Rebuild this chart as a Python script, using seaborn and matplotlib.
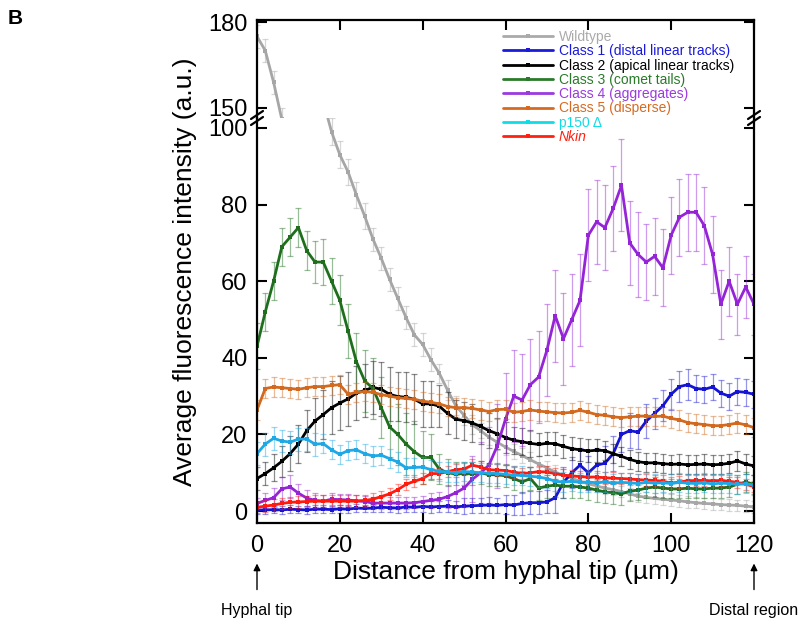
import numpy as np
import pandas as pd
import seaborn as sns
from matplotlib import pyplot as plt
from matplotlib.lines import Line2D

# distance from hyphal tip (um), sampled every 2 um
dist = list(range(0, 121, 2))

wildtype = [175, 170, 159, 146, 140, 132, 124, 115, 107, 99,
            93, 88.5, 82.5, 77, 71, 66, 60.5, 55.5, 50.5, 46,
            43.5, 39.5, 36, 31.6, 27.5, 25, 22.5, 21, 19.3, 18,
            16.7, 15.6, 14.5, 13.4, 12.3, 11.3, 10.2, 9.3, 8.6, 7.8,
            7.1, 6.6, 6, 5.6, 5.1, 4.5, 3.9, 3.6, 3.3, 3.1,
            2.9, 2.7, 2.4, 2.2, 2, 1.9, 1.7, 1.6, 1.5, 1.3, 1.1]
class1 = [0.3, 0.3, 0.4, 0.3, 0.5, 0.4, 0.3, 0.5, 0.5, 0.4,
          0.6, 0.5, 0.8, 0.7, 0.8, 1.0, 0.9, 0.8, 1.1, 1.0,
          1.2, 1.1, 1.2, 1.3, 1.1, 1.3, 1.4, 1.5, 1.6, 1.5,
          1.7, 1.6, 2.0, 2.2, 2.2, 2.4, 3.5, 7.5, 10, 12,
          10, 12, 12.5, 15, 20, 21, 20.6, 23.5, 25.5, 27.5,
          30.5, 32.5, 33, 32, 31.8, 32.4, 30.8, 30, 31.2, 31, 30.5]
class2 = [8.5, 9.8, 11.3, 13, 15, 17.5, 21, 23.5, 25.2, 27,
          28.2, 29.3, 30.8, 31.5, 32.3, 31.8, 30.5, 29.9, 29.7, 29.2,
          28, 28, 27.4, 25.5, 24, 23.6, 23, 22.1, 21, 20.2,
          19.2, 18.5, 18.1, 17.7, 17.4, 17.7, 17.6, 16.9, 16.3, 16,
          15.7, 15.9, 15.8, 15, 14.3, 13.5, 12.9, 12.6, 12.6, 12.4,
          12.2, 12.3, 12.1, 12.2, 12.3, 12.1, 12.2, 12.5, 13.1, 12.3, 11.8]
class3 = [43, 52, 60, 69, 71.5, 74, 68, 65, 65, 60,
          55, 47, 39, 34, 32, 27, 22, 20, 17.5, 15.5,
          14, 14, 11, 10, 9.7, 9.8, 9.7, 10, 9.5, 9.5,
          9.2, 8.5, 7.6, 8.5, 6, 6.5, 6.8, 6.5, 6.5, 6.3,
          6, 5.5, 5, 4.8, 4.5, 5.2, 5.5, 6, 6.3, 6,
          5.8, 5.8, 6, 5.8, 5.8, 6, 6, 6.3, 7, 7.6, 7]
class4 = [2, 2.8, 3.5, 5.8, 6.3, 4.7, 3.4, 2.8, 2.6, 3.1,
          3, 2.9, 2.7, 2.5, 2.1, 2.1, 2.1, 2.1, 2.1, 2.2,
          2.5, 2.8, 3.1, 3.8, 4.8, 6, 8.3, 10, 12, 17,
          24, 30, 29, 33, 35, 42, 51, 45, 50, 55,
          72, 75.5, 74, 79, 85, 70, 67, 65, 66.5, 63.5,
          72, 76.7, 78, 78, 74.5, 67, 54, 60, 54, 58.5, 54]
class5 = [26.4, 32, 32.4, 32.2, 32, 31.8, 32.2, 32.5, 32.5, 32.8,
          33, 30.5, 31, 31.2, 31, 30.4, 30, 29.6, 29.4, 29.2,
          28.7, 28.4, 28, 27.3, 27, 27, 26.8, 26.4, 26, 26.5,
          26.6, 25.8, 26, 26.4, 26.1, 25.9, 25.7, 25.6, 25.8, 26.3,
          25.8, 25.2, 25, 24.6, 24.4, 24.6, 24.8, 24.8, 24.7, 24.8,
          24.2, 23.8, 23.1, 22.8, 22.6, 22.3, 22.3, 22.6, 23, 22.5, 21.8]
p150 = [15, 17.5, 19, 18.3, 18, 18.8, 18.8, 17.5, 17.6, 16,
        14.8, 15.8, 16, 15, 14.4, 14.6, 13.7, 12.8, 11.3, 11.4,
        11.5, 10.8, 10.4, 10.2, 10, 10.3, 10.2, 10, 9.9, 9.8,
        9.6, 9.4, 9.3, 9.1, 8.9, 8.5, 7.8, 7.6, 7.8, 7.5,
        7.6, 7.4, 7.6, 7.3, 7.5, 7.4, 7.2, 7.5, 7.3, 7.4,
        7.2, 7.5, 7.3, 7.2, 7.4, 7.1, 7.3, 7.2, 7, 7.1, 6.8]
nkin = [1, 1.3, 1.6, 2, 2.3, 2.4, 2.5, 2.6, 2.6, 2.6,
        2.6, 2.6, 2.6, 2.8, 3.1, 3.8, 4.5, 5.6, 7, 7.8,
        8.5, 9.8, 9.8, 10.3, 10.8, 11, 12, 11.5, 10.8, 10.7,
        10.6, 10.2, 9.8, 10, 10.3, 10.2, 9.8, 9.4, 9.2, 9,
        8.9, 8.9, 8.7, 8.6, 8.5, 8.4, 8.2, 8.1, 8, 7.8,
        7.3, 7.6, 7.9, 8, 8, 7.9, 8, 7.8, 7.5, 7, 6.4]

# error bars (+/-)
wildtype_err = [4, 4, 4, 4, 4, 4, 4, 4, 4, 3.5,
                3.5, 3.5, 3.5, 3.5, 3, 3, 3, 3, 3, 3,
                3, 3, 2.5, 2.5, 2.5, 2.5, 2.5, 2, 2, 2,
                2, 2, 2, 2, 2, 1.8, 1.8, 1.8, 1.5, 1.5,
                1.5, 1.5, 1.5, 1.5, 1.5, 1.5, 1.5, 1.5, 1.5, 1.5,
                1.5, 1.5, 1.5, 1.5, 1.5, 1.5, 1.5, 1.5, 1.5, 1.5, 1.5]
class1_err = [1, 1, 1, 1, 1, 1, 1, 1, 1, 1,
              1, 1, 1, 1, 1, 1.2, 1.2, 1.2, 1.2, 1.2,
              1.5, 1.5, 1.5, 1.5, 1.5, 2, 2, 2, 2, 2,
              2.5, 2.5, 3, 3, 3, 3, 4, 4, 4, 4.5,
              4.5, 4.5, 4.5, 4.5, 4.5, 4.5, 4.5, 4.5, 4, 4,
              4, 4, 4, 3.5, 3.5, 3.5, 3.5, 3.5, 3.5, 3.5, 3.5]
class2_err = [3, 3, 3.5, 4, 4.5, 5, 5.5, 6, 6.5, 7,
              7, 7, 7, 7, 7, 7, 7, 6.5, 6.5, 6.5,
              6, 6, 5.5, 5.5, 5, 5, 5, 4.5, 4.5, 4,
              4, 3.5, 3.5, 3.5, 3, 3, 3, 3, 3, 3,
              3, 3, 2.5, 2.5, 2.5, 2.5, 2.5, 2.5, 2.5, 2.5,
              2.5, 2.5, 2.5, 2.5, 2.5, 2.5, 2.5, 2.5, 2.5, 2.5, 2.5]
class3_err = [6, 5, 5, 5, 5, 5, 5, 5.5, 6, 6,
              6.5, 7, 7.5, 8, 8, 8, 8, 8, 8, 8,
              7, 6, 4, 3.5, 3, 3, 3, 3, 3, 3,
              3, 3, 3, 3, 3, 3, 3, 3, 3, 3,
              3, 3, 3, 3, 3, 2.5, 2.5, 2.5, 2.5, 2.5,
              2.5, 2.5, 2.5, 2.5, 2.5, 2.5, 2.5, 2.5, 2.5, 2.5, 2.5]
class4_err = [1.5, 2, 2.5, 3, 3, 2.5, 2, 2, 1.5, 1.5,
              1.5, 1.5, 1.5, 1.5, 1.5, 1.5, 1.5, 1.5, 1.5, 1.5,
              1.5, 2, 2, 3, 4, 5, 6, 8, 10, 11,
              12, 12, 12, 12, 12, 12, 12, 12, 12, 12,
              12, 11, 11, 11, 12, 11, 11, 10, 10, 10,
              10, 10, 10, 10, 10, 10, 9, 9, 8, 8, 8]
class5_err = [2.5] * 61
p150_err = [3, 3, 3, 3, 3, 3, 3, 3, 2.5, 2.5,
            2.5, 2.5, 2.5, 2.5, 2.5, 2.5, 2.5, 2.5, 2.5, 2.5,
            2.5, 2.5, 2.5, 2.5, 2.5, 2.5, 2.5, 2.5, 2.5, 2.5,
            2.5, 2.5, 2.5, 2.5, 2.5, 2.5, 2.5, 2.5, 2.5, 2.5,
            2.5, 2.5, 2.5, 2.5, 2.5, 2.5, 2.5, 2.5, 2.5, 2.5,
            2.5, 2.5, 2.5, 2.5, 2.5, 2.5, 2.5, 2.5, 2.5, 2.5, 2.5]
nkin_err = [1.5] * 61

labels = ['Wildtype', 'Class 1 (distal linear tracks)', 'Class 2 (apical linear tracks)',
          'Class 3 (comet tails)', 'Class 4 (aggregates)', 'Class 5 (disperse)',
          'p150 \u0394', 'Nkin']
line_colors = ['#a6a6a6', '#1414d2', '#000000', '#1e6e1e', '#9424d6', '#d2691e',
               '#1ea8e6', '#ff1a0d']
legend_colors = ['#aaaaaa', '#1a1adc', '#000000', '#2a7a2a', '#9a3adf', '#d86a20',
                 '#10dce8', '#ff2010']

series = [wildtype, class1, class2, class3, class4, class5, p150, nkin]
errors = [wildtype_err, class1_err, class2_err, class3_err, class4_err, class5_err,
          p150_err, nkin_err]

sns.set_style('ticks')
plt.rcParams['font.family'] = ['Liberation Sans', 'DejaVu Sans']
plt.rcParams.update({'text.color': 'black', 'axes.labelcolor': 'black',
                     'xtick.color': 'black', 'ytick.color': 'black',
                     'axes.edgecolor': 'black'})

fig = plt.figure(figsize=(8.05, 6.25), dpi=100)
W, H = 805.0, 625.0
left, right = 257 / W, 754 / W
ax_top = fig.add_axes([left, 1 - 118 / H, right - left, 98 / H])
ax = fig.add_axes([left, 1 - 523 / H, right - left, 405 / H])

draw_order = [0, 1, 2, 3, 4, 5, 7, 6]
for a in (ax_top, ax):
    for i in draw_order:
        if a is ax_top and i != 0:
            continue
        a.errorbar(dist, series[i], yerr=errors[i], fmt='none', ecolor=line_colors[i],
                   alpha=0.45, elinewidth=0.9, capsize=2.2, capthick=0.9)
        sns.lineplot(x=dist, y=series[i], ax=a, color=line_colors[i], marker='s',
                     markersize=3.5, markeredgewidth=0, linewidth=2, legend=False)

ax_top.set_ylim(146.5, 180.7)
ax.set_ylim(-3.1, 102.6)
for a in (ax_top, ax):
    a.set_xlim(0, 120)
    a.set_xticks([0, 20, 40, 60, 80, 100, 120])
    for s in a.spines.values():
        s.set_linewidth(1.6)
        s.set_color('black')
    a.tick_params(direction='in', length=7, width=1.5, labelsize=17, pad=7,
                  left=True, right=True, colors='black')
    a.set_ylabel('')
    a.set_xlabel('')

ax_top.spines['bottom'].set_visible(False)
ax_top.set_yticks([150, 180])
ax_top.tick_params(axis='x', bottom=False, top=True, labelbottom=False)
ax.spines['top'].set_visible(False)
ax.set_yticks([0, 20, 40, 60, 80, 100])
ax.tick_params(axis='x', top=False, bottom=True, pad=9)

ax.set_xlabel('Distance from hyphal tip (\u00b5m)', fontsize=19, labelpad=2, color='black')
fig.text(185 / W, 1 - 272 / H, 'Average fluorescence intensity (a.u.)', fontsize=19,
         rotation=90, ha='center', va='center', color='black')

# axis break marks
for xb in (257, 754):
    for dy in (-3, 3):
        y0 = 118 + dy
        fig.add_artist(Line2D([(xb - 6) / W, (xb + 6) / W],
                              [1 - (y0 + 4) / H, 1 - (y0 - 4) / H],
                              color='black', lw=1.6, transform=fig.transFigure))

# legend
handles = [Line2D([0], [0], color=c, lw=2, marker='s', markersize=3.5,
                  markeredgewidth=0) for c in legend_colors]
leg = fig.legend(handles, labels, loc='upper left', bbox_to_anchor=(503 / W, 1 - 30 / H),
                 frameon=False, fontsize=10, labelspacing=0.02, handlelength=3.6,
                 handletextpad=0.4, borderpad=0, borderaxespad=0)
for t, c in zip(leg.get_texts(), legend_colors):
    t.set_color(c)
leg.get_texts()[-1].set_style('italic')

# tip / distal annotations
for xv, txt in ((0, 'Hyphal tip'), (120, 'Distal region')):
    ax.annotate(txt, xy=(xv, -0.1), xycoords=('data', 'axes fraction'),
                xytext=(xv, -0.215), textcoords=('data', 'axes fraction'),
                ha='center', va='center', fontsize=11.5, annotation_clip=False,
                arrowprops=dict(arrowstyle='-|>', color='black', lw=1,
                                mutation_scale=10, shrinkA=7, shrinkB=0))

fig.text(8 / W, 1 - 18 / H, 'B', fontsize=15, fontweight='bold', va='center')

fig.savefig('out.png', dpi=100)
